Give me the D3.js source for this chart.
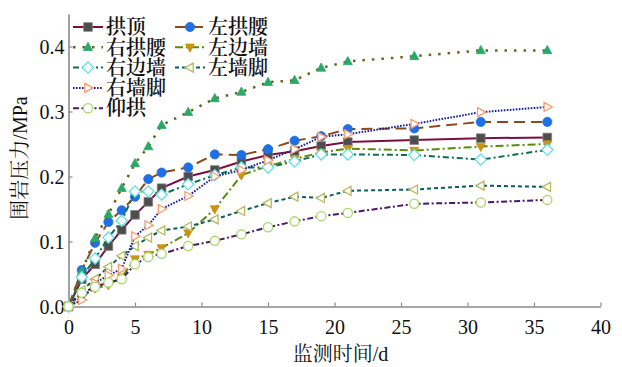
<!DOCTYPE html>
<html><head><meta charset="utf-8">
<script src="https://cdn.jsdelivr.net/npm/d3@7"></script>
<style>
html,body{margin:0;padding:0;background:#fff;}
svg{display:block;}
.num{font-family:"Liberation Serif","Times New Roman",serif;}
.cjk{font-family:"Liberation Serif","Noto Serif CJK SC","Noto Sans CJK SC",serif;}
</style></head>
<body>
<script>
const days = [0,1,2,3,4,5,6,7,9,11,13,15,17,19,21,26,31,36];
const gongDing   = [0,0.042,0.065,0.093,0.118,0.141,0.161,0.182,0.200,0.210,0.223,0.233,0.239,0.247,0.253,0.256,0.259,0.260];
const zuoGongYao = [0,0.056,0.098,0.130,0.148,0.169,0.196,0.206,0.214,0.234,0.233,0.242,0.255,0.262,0.273,0.274,0.284,0.284];
const youGongYao = [0,0.054,0.105,0.142,0.182,0.220,0.246,0.279,0.299,0.320,0.330,0.345,0.348,0.367,0.377,0.385,0.394,0.394];
const zuoBianQiang = [0,0.015,0.028,0.033,0.045,0.073,0.080,0.090,0.113,0.150,0.202,0.216,0.227,0.237,0.243,0.240,0.246,0.250];
const youBianQiang = [0,0.045,0.074,0.106,0.132,0.177,0.177,0.172,0.188,0.202,0.214,0.214,0.223,0.234,0.234,0.233,0.226,0.241];
const zuoQiangJiao = [0,0.025,0.042,0.061,0.078,0.093,0.106,0.117,0.123,0.134,0.147,0.159,0.169,0.167,0.178,0.180,0.186,0.184];
const youQiangJiao = [0,0.010,0.036,0.048,0.058,0.108,0.125,0.150,0.170,0.200,0.210,0.225,0.242,0.261,0.265,0.281,0.299,0.307];
const yangGong   = [0,0.021,0.030,0.037,0.042,0.065,0.076,0.081,0.093,0.101,0.111,0.122,0.131,0.139,0.144,0.158,0.160,0.164];

const seriesNames = ["拱顶","左拱腰","右拱腰","左边墙","右边墙","左墙脚","右墙脚","仰拱"];
const seriesValues = [gongDing, zuoGongYao, youGongYao, zuoBianQiang, youBianQiang, zuoQiangJiao, youQiangJiao, yangGong];
const xTicks = [0,5,10,15,20,25,30,35,40];
const yTicks = [0,0.1,0.2,0.3,0.4];
const xTitle = "监测时间/d";
const yTitle = "围岩压力/MPa";

const styles = [
  {line:"#7a1040", dash:null, w:2, shape:"square", fill:"#4d4d4d", stroke:"#7d7d7d"},
  {line:"#8b4a1c", dash:"11,6", w:2, shape:"circle", fill:"#1f6fe5", stroke:"#1f6fe5"},
  {line:"#6b6420", dash:"2.5,7", w:2.5, shape:"triUp", fill:"#2aa86a", stroke:"#2aa86a"},
  {line:"#5a8a10", dash:"8,3,2,3", w:2, shape:"triDown", fill:"#c89416", stroke:"#c89416"},
  {line:"#0e6e4e", dash:"6,3,2,3", w:2, shape:"diamond", fill:"#fff", stroke:"#60e0e8"},
  {line:"#0b5d5d", dash:"4,3", w:2, shape:"triLeft", fill:"#fff", stroke:"#b8b860"},
  {line:"#1a1a9c", dash:"1.6,1.4", w:2, shape:"triRight", fill:"#fff", stroke:"#f89a6a"},
  {line:"#4b1868", dash:"6,2.5,2,2.5", w:2, shape:"circle", fill:"#fff", stroke:"#a8d868"}
];

const W = 622, H = 367;
const svg = d3.select("body").append("svg").attr("width", W).attr("height", H);

const x = d3.scaleLinear().domain([0,40]).range([68.5,600.5]);
const y = d3.scaleLinear().domain([0,0.45]).range([306.5,14]);

const axisColor = "#8a8a8a";

// axes
const xAxis = d3.axisBottom(x).tickValues(xTicks).tickFormat(d3.format("d")).tickSizeInner(-4).tickSizeOuter(0);
const gx = svg.append("g").attr("transform", `translate(0,${y(0)})`).call(xAxis).attr("font-family", null);
gx.select(".domain").attr("stroke", axisColor).attr("stroke-width", 1.6);
gx.selectAll(".tick line").attr("stroke", axisColor).attr("stroke-width", 1.2);
gx.selectAll(".tick text").attr("class","num").attr("font-size", 20).attr("fill", "#111").attr("dy", null).attr("y", 27);

const yAxis = d3.axisLeft(y).tickValues(yTicks).tickFormat(d3.format(".1f")).tickSizeInner(-4).tickSizeOuter(0);
const gy = svg.append("g").attr("transform", `translate(${x(0)},0)`).call(yAxis).attr("font-family", null);
gy.select(".domain").attr("stroke", axisColor).attr("stroke-width", 1.6);
gy.selectAll(".tick line").attr("stroke", axisColor).attr("stroke-width", 1.2);
gy.selectAll(".tick text").attr("class","num").attr("font-size", 20).attr("fill", "#111").attr("x", -4).attr("dy", "0.35em");

// titles
svg.append("text").attr("class","cjk").attr("x", (x(0)+x(40))/2 + 6).attr("y", 361).attr("text-anchor","middle")
  .attr("font-size", 20).attr("fill","#111").text(xTitle);
svg.append("text").attr("class","cjk").attr("transform", `translate(27,${158}) rotate(-90)`).attr("text-anchor","middle")
  .attr("font-size", 20).attr("fill","#111").text(yTitle);

function markerPath(shape, s) {
  switch (shape) {
    case "square": return `M${-s},${-s}H${s}V${s}H${-s}Z`;
    case "triUp": return `M0,${-s*1.15}L${s*1.05},${s*0.75}L${-s*1.05},${s*0.75}Z`;
    case "triDown": return `M0,${s*1.15}L${s*1.05},${-s*0.75}L${-s*1.05},${-s*0.75}Z`;
    case "triLeft": return `M${-s*1.15},0L${s*0.75},${-s*1.05}L${s*0.75},${s*1.05}Z`;
    case "triRight": return `M${s*1.15},0L${-s*0.75},${-s*1.05}L${-s*0.75},${s*1.05}Z`;
    case "diamond": return `M0,${-s*1.3}L${s*1.3},0L0,${s*1.3}L${-s*1.3},0Z`;
  }
}
function drawMarker(g, st, cx, cy) {
  const open = st.fill === "#fff";
  if (st.shape === "circle") {
    g.append("circle").attr("cx", cx).attr("cy", cy).attr("r", 4.6)
      .attr("fill", st.fill).attr("stroke", st.stroke).attr("stroke-width", open ? 1.3 : 0.8);
  } else {
    g.append("path").attr("transform", `translate(${cx},${cy})`).attr("d", markerPath(st.shape, 4.3))
      .attr("fill", st.fill).attr("stroke", st.stroke).attr("stroke-width", open ? 1.3 : 0.8);
  }
}

const line = d3.line().x(d => x(d[0])).y(d => y(d[1]));
const plot = svg.append("g");
seriesValues.forEach((vals, i) => {
  const st = styles[i];
  const pts = days.map((d, j) => [d, vals[j]]);
  const g = plot.append("g");
  g.append("path").attr("d", line(pts)).attr("fill","none").attr("stroke", st.line)
    .attr("stroke-width", st.w).attr("stroke-dasharray", st.dash);
  pts.forEach(p => drawMarker(g, st, x(p[0]), y(p[1])));
});

// legend
const leg = svg.append("g");
const colX = [73, 175];
seriesNames.forEach((name, i) => {
  const st = styles[i];
  let col, row;
  if (i < 6) { col = i % 2; row = Math.floor(i / 2); } else { col = 0; row = i - 3; }
  const lx = colX[col], ly = 27 + row * 20.3;
  leg.append("line").attr("x1", lx).attr("x2", lx + 30).attr("y1", ly).attr("y2", ly)
    .attr("stroke", st.line).attr("stroke-width", st.w).attr("stroke-dasharray", st.dash);
  drawMarker(leg, st, lx + 15, ly);
  leg.append("text").attr("class","cjk").attr("x", lx + 33).attr("y", ly).attr("dy","0.36em")
    .attr("font-size", 20).attr("font-weight", 600).attr("fill","#111").text(name);
});
</script>
</body></html>
